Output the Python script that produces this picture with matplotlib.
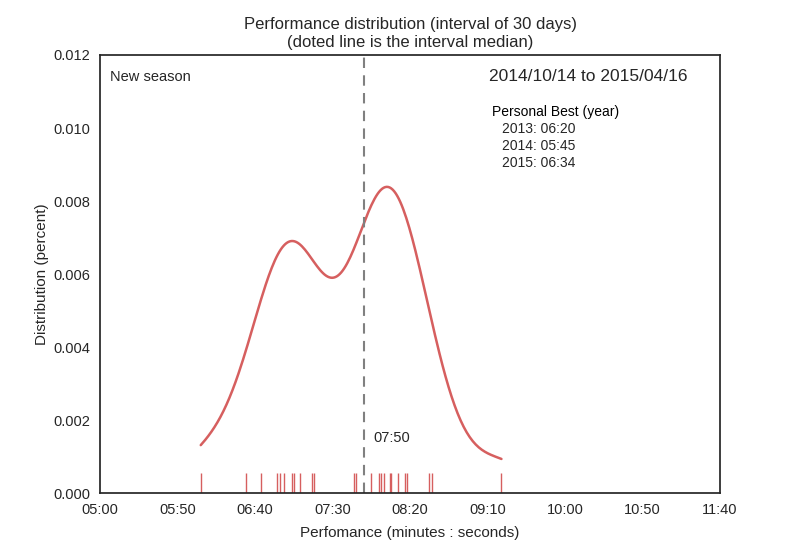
"""Performance distribution over a 30-day interval: KDE + rug + median line."""
import matplotlib
matplotlib.use("Agg")
import matplotlib.pyplot as plt
from matplotlib.ticker import FuncFormatter
import seaborn as sns

# race times in seconds
times = [365, 394, 404, 414, 416, 419, 424, 425, 429, 437, 438, 464, 465,
         475, 480, 481, 483, 487, 488, 492, 497, 498, 512, 514, 559]
interval_median = 470  # 07:50, as labelled on the chart
x_ticks = [300, 350, 400, 450, 500, 550, 600, 650, 700]
y_ticks = [0.000, 0.002, 0.004, 0.006, 0.008, 0.010, 0.012]
period = "2014/10/14 to 2015/04/16"
personal_best = ["2013: 06:20", "2014: 05:45", "2015: 06:34"]

RED = "#d65f5f"
DARK = "#262626"


def mmss(v, _=None):
    v = int(round(v))
    return f"{v // 60:02d}:{v % 60:02d}"


sns.set_style("white")
plt.rcParams["font.family"] = ["Liberation Sans", "DejaVu Sans"]

fig = plt.figure(figsize=(8, 5.5), dpi=100)
ax = fig.add_axes([0.125, 0.1036, 0.775, 0.7964])

sns.kdeplot(x=times, ax=ax, cut=0, bw_adjust=0.84, color=RED, lw=1.8)
sns.rugplot(x=times, ax=ax, color=RED, height=0.046, lw=1)

ax.axvline(interval_median, color="gray", ls=(0, (5, 3.5)), lw=1.5)
ax.text(interval_median + 6.5, 0.0015, mmss(interval_median),
        fontsize=10.5, va="center", color=DARK)

ax.text(0.016, 0.95, "New season", transform=ax.transAxes,
        fontsize=10.5, va="center", color=DARK)
ax.text(0.627, 0.95, period, transform=ax.transAxes, fontsize=12.5,
        va="center", color=DARK)
ax.text(0.633, 0.870, "Personal Best (year)", transform=ax.transAxes,
        fontsize=10, va="center", color="black")
ax.text(0.648, 0.847, "\n".join(personal_best), transform=ax.transAxes,
        fontsize=10, va="top", color=DARK, linespacing=1.28)

ax.set_xlim(300, 700)
ax.set_ylim(0, 0.012)
ax.set_xticks(x_ticks)
ax.set_yticks(y_ticks)
ax.xaxis.set_major_formatter(FuncFormatter(mmss))
ax.yaxis.set_major_formatter(FuncFormatter(lambda v, _: f"{v:.3f}"))
ax.tick_params(labelsize=10.5, colors=DARK)
for s in ax.spines.values():
    s.set_color(DARK)
    s.set_linewidth(1.25)

ax.set_xlabel("Perfomance (minutes : seconds)", fontsize=11, color=DARK, labelpad=7)
ax.set_ylabel("Distribution (percent)", fontsize=11, color=DARK, labelpad=3)
ax.set_title("Performance distribution (interval of 30 days)\n(doted line is the interval median)",
             fontsize=12, color=DARK)

fig.savefig("out.png", dpi=100)
